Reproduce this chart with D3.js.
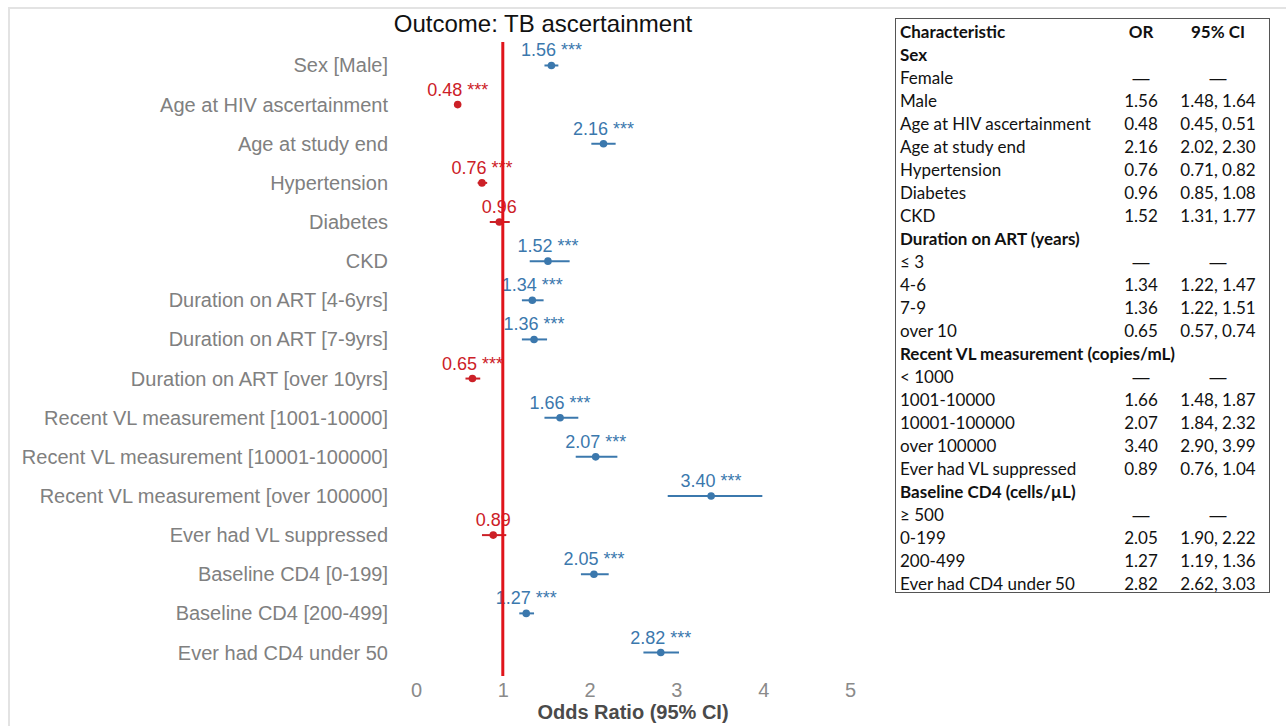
<!DOCTYPE html>
<html>
<head>
<meta charset="utf-8">
<script src="https://cdn.jsdelivr.net/npm/d3@7"></script>
<style>
  html, body { margin: 0; padding: 0; background: #fff; }
  svg { display: block; }
</style>
</head>
<body>
<script>
// forest plot rows (top to bottom)
const terms = [
  'Sex [Male]', 'Age at HIV ascertainment', 'Age at study end', 'Hypertension',
  'Diabetes', 'CKD', 'Duration on ART [4-6yrs]', 'Duration on ART [7-9yrs]',
  'Duration on ART [over 10yrs]', 'Recent VL measurement [1001-10000]',
  'Recent VL measurement [10001-100000]', 'Recent VL measurement [over 100000]',
  'Ever had VL suppressed', 'Baseline CD4 [0-199]', 'Baseline CD4 [200-499]',
  'Ever had CD4 under 50'
];
const oddsRatio = [1.56, 0.48, 2.16, 0.76, 0.96, 1.52, 1.34, 1.36, 0.65, 1.66, 2.07, 3.40, 0.89, 2.05, 1.27, 2.82];
const ciLow  = [1.48, 0.45, 2.02, 0.71, 0.85, 1.31, 1.22, 1.22, 0.57, 1.48, 1.84, 2.90, 0.76, 1.90, 1.19, 2.62];
const ciHigh = [1.64, 0.51, 2.30, 0.82, 1.08, 1.77, 1.47, 1.51, 0.74, 1.87, 2.32, 3.99, 1.04, 2.22, 1.36, 3.03];
const stars  = ['***', '***', '***', '***', '', '***', '***', '***', '***', '***', '***', '***', '', '***', '***', '***'];
const xTicks = [0, 1, 2, 3, 4, 5];

// side table
const tableLabels = [
  'Characteristic', 'Sex', 'Female', 'Male', 'Age at HIV ascertainment', 'Age at study end',
  'Hypertension', 'Diabetes', 'CKD', 'Duration on ART (years)', '≤ 3', '4-6', '7-9', 'over 10',
  'Recent VL measurement (copies/mL)', '< 1000', '1001-10000', '10001-100000', 'over 100000',
  'Ever had VL suppressed', 'Baseline CD4 (cells/µL)', '≥ 500', '0-199', '200-499', 'Ever had CD4 under 50'
];
const tableOR = ['OR', '', '—', '1.56', '0.48', '2.16', '0.76', '0.96', '1.52', '', '—', '1.34', '1.36', '0.65',
  '', '—', '1.66', '2.07', '3.40', '0.89', '', '—', '2.05', '1.27', '2.82'];
const tableCI = ['95% CI', '', '—', '1.48, 1.64', '0.45, 0.51', '2.02, 2.30', '0.71, 0.82', '0.85, 1.08', '1.31, 1.77',
  '', '—', '1.22, 1.47', '1.22, 1.51', '0.57, 0.74', '', '—', '1.48, 1.87', '1.84, 2.32', '2.90, 3.99',
  '0.76, 1.04', '', '—', '1.90, 2.22', '1.19, 1.36', '2.62, 3.03'];
const tableBold = ['Characteristic', 'Sex', 'Duration on ART (years)', 'Recent VL measurement (copies/mL)', 'Baseline CD4 (cells/µL)'];

const width = 1286;
const height = 726;
const blue = '#3b78ad';
const red = '#cc2027';

const svg = d3.select('body').append('svg')
  .attr('width', width)
  .attr('height', height);

// light frame
svg.append('path')
  .attr('d', `M9,${height} V8 H${width}`)
  .attr('fill', 'none')
  .attr('stroke', '#e3e3e3')
  .attr('stroke-width', 2);

const x = d3.scaleLinear().domain([0, 5]).range([416, 850]);
const y = d3.scalePoint().domain(terms).range([42, 676]).padding(0.6);

const rows = terms.map((t, i) => ({
  term: t, or: oddsRatio[i], lo: ciLow[i], hi: ciHigh[i], p: stars[i]
}));

svg.append('text')
  .attr('x', 543)
  .attr('y', 32)
  .attr('text-anchor', 'middle')
  .attr('font-family', 'Liberation Sans, Arial, sans-serif')
  .attr('font-size', 24)
  .attr('fill', '#111')
  .text('Outcome: TB ascertainment');

// y labels
svg.append('g')
  .selectAll('text')
  .data(terms)
  .join('text')
  .attr('x', 388)
  .attr('y', d => y(d) + 7)
  .attr('text-anchor', 'end')
  .attr('font-family', 'Liberation Sans, Arial, sans-serif')
  .attr('font-size', 20)
  .attr('fill', '#808080')
  .text(d => d);

// x axis
const xAxis = g => g
  .attr('transform', 'translate(0,680)')
  .call(d3.axisBottom(x).tickValues(xTicks).tickFormat(d3.format('d')).tickSize(0).tickPadding(0))
  .call(g => g.select('.domain').remove())
  .call(g => g.selectAll('text')
    .attr('dy', null)
    .attr('y', 17)
    .attr('font-family', 'Liberation Sans, Arial, sans-serif')
    .attr('font-size', 20)
    .attr('fill', '#8a8a8a'));

svg.append('g').call(xAxis);

svg.append('text')
  .attr('x', (x(0) + x(5)) / 2)
  .attr('y', 719)
  .attr('text-anchor', 'middle')
  .attr('font-family', 'Liberation Sans, Arial, sans-serif')
  .attr('font-size', 20)
  .attr('font-weight', 'bold')
  .attr('fill', '#4a4a4a')
  .text('Odds Ratio (95% CI)');

// points, whiskers
const marks = svg.append('g');

marks.selectAll('line')
  .data(rows)
  .join('line')
  .attr('x1', d => x(d.lo))
  .attr('x2', d => x(d.hi))
  .attr('y1', d => y(d.term))
  .attr('y2', d => y(d.term))
  .attr('stroke', d => d.or > 1 ? blue : red)
  .attr('stroke-width', 2);

marks.selectAll('circle')
  .data(rows)
  .join('circle')
  .attr('cx', d => x(d.or))
  .attr('cy', d => y(d.term))
  .attr('r', 3.8)
  .attr('fill', d => d.or > 1 ? blue : red);

// reference line at 1
svg.append('line')
  .attr('x1', x(1)).attr('x2', x(1))
  .attr('y1', 42).attr('y2', 676)
  .attr('stroke', '#e0141b')
  .attr('stroke-width', 3);

marks.selectAll('text')
  .data(rows)
  .join('text')
  .attr('x', d => x(d.or))
  .attr('y', d => y(d.term) - 9)
  .attr('text-anchor', 'middle')
  .attr('font-family', 'Liberation Sans, Arial, sans-serif')
  .attr('font-size', 18)
  .attr('fill', d => d.or > 1 ? blue : red)
  .text(d => d.or.toFixed(2) + (d.p ? ' ' + d.p : ''));

// table
const tbl = svg.append('g');
tbl.append('rect')
  .attr('x', 895.5).attr('y', 18.5)
  .attr('width', 374).attr('height', 574)
  .attr('fill', 'none')
  .attr('stroke', '#555')
  .attr('stroke-width', 1);

const rowY = i => 32 + i * 23 + 6;
const tfont = 'Lato, Calibri, sans-serif';
const dashFont = 'Liberation Sans, Arial, sans-serif';
const tsize = 17;

tbl.selectAll('text.lab')
  .data(tableLabels)
  .join('text')
  .attr('class', 'lab')
  .attr('x', 900)
  .attr('y', (d, i) => rowY(i))
  .attr('font-family', tfont)
  .attr('font-size', tsize)
  .attr('font-weight', d => tableBold.includes(d) ? 'bold' : 'normal')
  .attr('fill', '#111')
  .text(d => d);

tbl.selectAll('text.or')
  .data(tableOR)
  .join('text')
  .attr('class', 'or')
  .attr('x', 1141)
  .attr('y', (d, i) => rowY(i))
  .attr('text-anchor', 'middle')
  .attr('font-family', d => d === '—' ? dashFont : tfont)
  .attr('font-size', tsize)
  .attr('font-weight', (d, i) => i === 0 ? 'bold' : 'normal')
  .attr('fill', '#111')
  .text(d => d);

tbl.selectAll('text.ci')
  .data(tableCI)
  .join('text')
  .attr('class', 'ci')
  .attr('x', 1218)
  .attr('y', (d, i) => rowY(i))
  .attr('text-anchor', 'middle')
  .attr('font-family', d => d === '—' ? dashFont : tfont)
  .attr('font-size', tsize)
  .attr('font-weight', (d, i) => i === 0 ? 'bold' : 'normal')
  .attr('fill', '#111')
  .text(d => d);
</script>
</body>
</html>
